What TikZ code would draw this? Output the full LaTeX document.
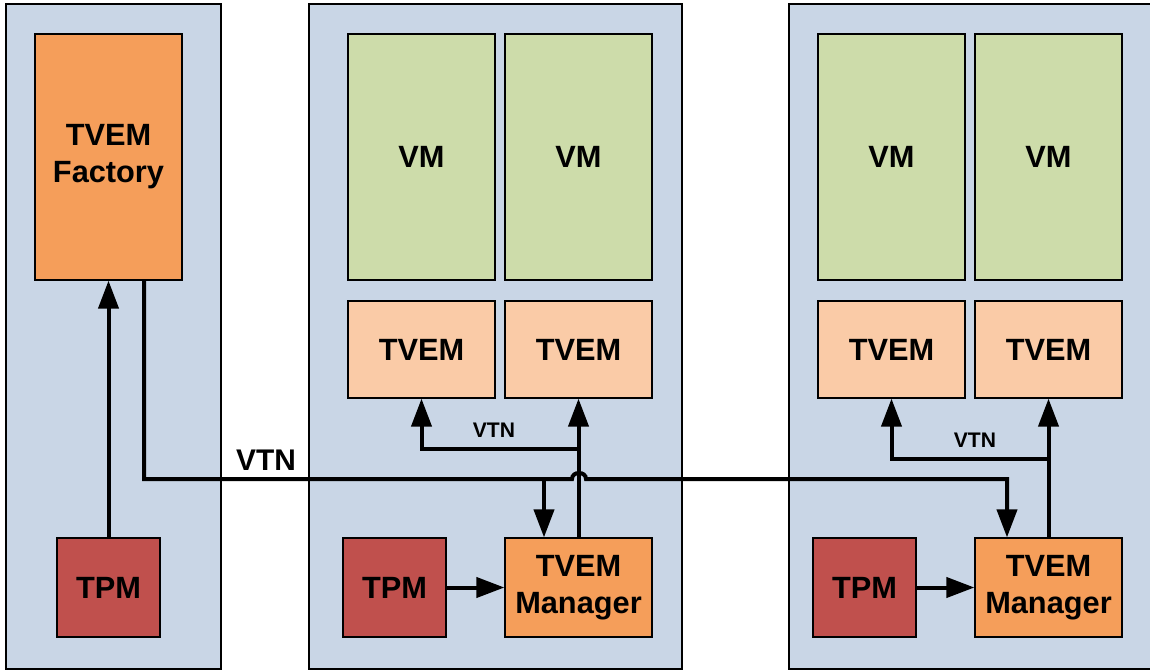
\documentclass[tikz,border=0pt]{standalone}
\usepackage{fontspec}
\setmainfont{Liberation Sans}
\usetikzlibrary{arrows.meta}
\newlength\px
\setlength\px{0.02cm}
\definecolor{panelblue}{RGB}{201,214,230}
\definecolor{vmgreen}{RGB}{205,220,170}
\definecolor{tvemlight}{RGB}{250,203,167}
\definecolor{mgrorange}{RGB}{245,158,90}
\definecolor{tpmred}{RGB}{192,80,77}
\begin{document}
\begin{tikzpicture}[x=0.02cm,y=-0.02cm,
  panel/.style={fill=panelblue,draw=black,line width=1.2\px},
  blk/.style={draw=black,line width=1.2\px,inner sep=0pt,align=center,
    font=\bfseries\fontsize{17.5}{21}\selectfont},
  vmbox/.style={blk,fill=vmgreen,minimum width=147\px,minimum height=246\px},
  tvbox/.style={blk,fill=tvemlight,minimum width=147\px,minimum height=97\px},
  mgrbox/.style={blk,fill=mgrorange,minimum width=147\px,minimum height=99\px},
  tpmbox/.style={blk,fill=tpmred,minimum width=103\px,minimum height=99\px},
  link/.style={line width=4\px},
  arr/.style={link,-{Triangle[width=0.4cm,length=0.56cm]}},
  lbl/.style={font=\bfseries\fontsize{#1}{#1}\selectfont,inner sep=0pt}]
\useasboundingbox (0,0) rectangle (1150,670);
\clip (0,0) rectangle (1150,670);

% host panels
\draw[panel] (6,4) rectangle (221,669);
\draw[panel] (309,4) rectangle (682,669);
\draw[panel] (789,4) rectangle (1160,669);

% factory host
\node[blk,fill=mgrorange,minimum width=147\px,minimum height=246\px] (fac) at (108.5,157) {TVEM\\Factory};
\node[tpmbox] (tpm0) at (108.5,587.5) {TPM};

% first platform
\node[vmbox] (vmA1) at (421.5,157) {VM};
\node[vmbox] (vmA2) at (578.5,157) {VM};
\node[tvbox] (tvA1) at (421.5,349.5) {TVEM};
\node[tvbox] (tvA2) at (578.5,349.5) {TVEM};
\node[tpmbox] (tpmA) at (394.5,587.5) {TPM};
\node[mgrbox] (mgrA) at (578.5,587.5) {TVEM\\Manager};

% second platform
\node[vmbox] (vmB1) at (891.5,157) {VM};
\node[vmbox] (vmB2) at (1048.5,157) {VM};
\node[tvbox] (tvB1) at (891.5,349.5) {TVEM};
\node[tvbox] (tvB2) at (1048.5,349.5) {TVEM};
\node[tpmbox] (tpmB) at (864.5,587.5) {TPM};
\node[mgrbox] (mgrB) at (1048.5,587.5) {TVEM\\Manager};

% bend points of the VTN links
\coordinate (j0) at (144,479);
\coordinate (bA) at (544,479);
\coordinate (bB) at (1007,479);
\coordinate (uA) at (578.5,449);
\coordinate (uB) at (1048.5,459);

% TPM to factory and managers
\draw[arr] (tpm0.north) -- (fac.south);
\draw[arr] (tpmA.east) -- (mgrA.west);
\draw[arr] (tpmB.east) -- (mgrB.west);

% factory VTN trunk with a hop over the manager link
\draw[arr] (fac.south -| j0) -- (j0) -- (572,479)
  .. controls (572,471) and (586,471) .. (586,479)
  -- (bB) -- (bB |- mgrB.north);
\draw[arr] (bA) -- (bA |- mgrA.north);

% managers to their TVEMs
\draw[arr] (mgrA.north) -- (tvA2.south);
\draw[arr] (uA) -- (uA -| tvA1.south) -- (tvA1.south);
\draw[arr] (mgrB.north) -- (tvB2.south);
\draw[arr] (uB) -- (uB -| tvB1.south) -- (tvB1.south);

% labels
\node[lbl=17] (vtn0) at (266,460) {VTN};
\node[lbl=12] (vtnA) at (494,430) {VTN};
\node[lbl=12] (vtnB) at (975,440) {VTN};
\end{tikzpicture}
\end{document}
